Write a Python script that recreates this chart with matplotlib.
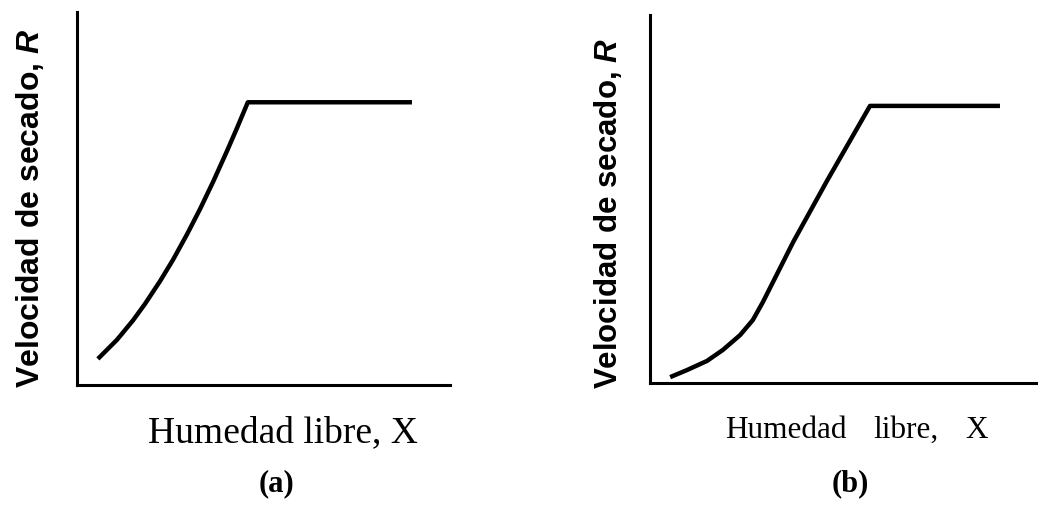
import matplotlib
matplotlib.use("Agg")
import matplotlib.pyplot as plt

# curva (a): humedad libre vs velocidad de secado (unidades arbitrarias, 0-10)
x_a = [0.56, 1.07, 1.50, 1.82, 2.23, 2.57, 2.95, 3.30, 3.65, 4.02, 4.29, 4.50, 4.58, 8.98]
r_a = [0.70, 1.21, 1.73, 2.17, 2.79, 3.35, 4.04, 4.72, 5.45, 6.27, 6.89, 7.39, 7.58, 7.58]

# curva (b)
x_b = [0.52, 0.95, 1.47, 1.88, 2.32, 2.65, 2.91, 3.69, 4.56, 5.67, 9.02]
r_b = [0.16, 0.35, 0.60, 0.90, 1.30, 1.71, 2.20, 3.83, 5.49, 7.53, 7.53]

etiquetas = ["(a)", "(b)"]

plt.rcParams["mathtext.fontset"] = "custom"
plt.rcParams["mathtext.it"] = "Liberation Sans:italic:bold"
plt.rcParams["mathtext.rm"] = "Liberation Sans:bold"

W, H = 1038, 505
fig = plt.figure(figsize=(W / 100, H / 100), dpi=100)
fig.patch.set_facecolor("white")


def px(x, y):
    return x / W, 1 - y / H


def ejes(rect):
    ax = fig.add_axes(rect)
    ax.set_xlim(0, 10)
    ax.set_ylim(0, 10)
    for s in ["top", "right"]:
        ax.spines[s].set_visible(False)
    for s in ["left", "bottom"]:
        ax.spines[s].set_linewidth(2.2)
        ax.spines[s].set_color("black")
    ax.set_xticks([])
    ax.set_yticks([])
    ax.patch.set_alpha(0)
    return ax


ax_a = ejes([77 / W, 120 / H, 373 / W, 373 / H])
ax_a.plot(x_a, r_a, color="black", lw=3.2, solid_capstyle="butt",
          solid_joinstyle="round", clip_on=False)

ax_b = ejes([650 / W, 122 / H, 388 / W, 368 / H])
ax_b.plot(x_b, r_b, color="black", lw=3.2, solid_capstyle="butt",
          solid_joinstyle="round", clip_on=False)

ylabel = r"Velocidad de secado, $R$"
fig.text(*px(30, 208), ylabel, rotation=90, ha="center", va="center",
         fontsize=23, fontweight="bold", family="Liberation Sans")
fig.text(*px(608, 214), ylabel, rotation=90, ha="center", va="center",
         fontsize=22.5, fontweight="bold", family="Liberation Sans")

# etiquetas del eje x
fig.text(*px(283, 442), "Humedad libre, X", ha="center", va="baseline",
         fontsize=27, family="Liberation Serif")
for palabra, xp in [("Humedad", 725), ("libre,", 873), ("X", 965)]:
    fig.text(*px(xp, 438), palabra, ha="left", va="baseline",
             fontsize=22.5, family="Liberation Serif")

fig.text(*px(276, 484), etiquetas[0], ha="center", va="center",
         fontsize=22, fontweight="bold", family="Liberation Serif")
fig.text(*px(850, 484), etiquetas[1], ha="center", va="center",
         fontsize=22, fontweight="bold", family="Liberation Serif")

fig.savefig("out.png", dpi=100, facecolor="white")
